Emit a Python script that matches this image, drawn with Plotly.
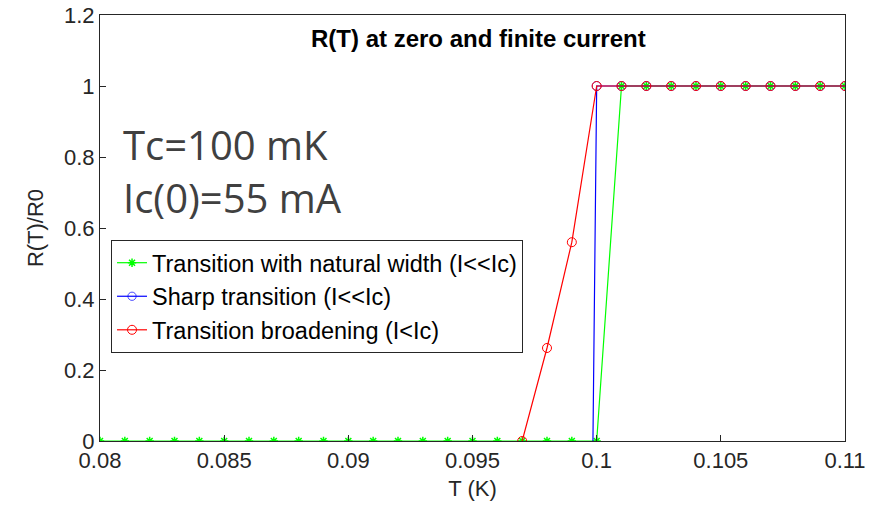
import plotly.graph_objects as go

# Data
T_nat = [round(0.080 + 0.001 * i, 3) for i in range(31)]
R_nat = [0] * 21 + [1] * 10

T_sharp = [0.09985, 0.100] + [round(0.101 + 0.001 * i, 3) for i in range(10)]
R_sharp = [0, 1] + [1] * 10

T_broad = [0.097, 0.098, 0.099, 0.100] + [round(0.101 + 0.001 * i, 3) for i in range(10)]
R_broad = [0, 0.262, 0.56, 1] + [1] * 10

x_ticks = [0.08, 0.085, 0.09, 0.095, 0.1, 0.105, 0.11]
x_ticklabels = ["0.08", "0.085", "0.09", "0.095", "0.1", "0.105", "0.11"]
y_ticks = [0, 0.2, 0.4, 0.6, 0.8, 1, 1.2]
y_ticklabels = ["0", "0.2", "0.4", "0.6", "0.8", "1", "1.2"]

FONT = "Liberation Sans, Arial, sans-serif"

fig = go.Figure()
fig.add_trace(go.Scatter(
    x=T_nat, y=R_nat, mode="lines+markers",
    name="Transition with natural width (I<<Ic)",
    line=dict(color="#00ff00", width=1.2),
    marker=dict(symbol="asterisk", size=7, color="#00ff00",
                line=dict(color="#00ff00", width=1.5)),
))
fig.add_trace(go.Scatter(
    x=T_sharp, y=R_sharp, mode="lines+markers",
    name="Sharp transition (I<<Ic)",
    line=dict(color="#0000ff", width=1.2),
    marker=dict(symbol="circle-open", size=[0] + [9] * (len(T_sharp) - 1),
                color="#0000ff", line=dict(width=1)),
))
fig.add_trace(go.Scatter(
    x=T_broad, y=R_broad, mode="lines+markers",
    name="Transition broadening (I<Ic)",
    line=dict(color="#ff0000", width=1.2),
    marker=dict(symbol="circle-open", size=9, color="#ff0000", line=dict(width=1)),
))

fig.update_layout(
    width=877, height=512,
    margin=dict(l=100, r=32, t=15, b=71, autoexpand=False),
    paper_bgcolor="white", plot_bgcolor="white",
    font=dict(family=FONT, size=22, color="#262626"),
    showlegend=True,
    legend=dict(
        x=0.0148, y=0.472, xanchor="left", yanchor="top",
        bgcolor="white", bordercolor="#262626", borderwidth=1,
        font=dict(family=FONT, size=23.5, color="#000000"),
        tracegroupgap=0, itemwidth=30,
    ),
    annotations=[
        dict(text="<b>R(T) at zero and finite current</b>", x=0.508, y=0.945,
             xref="paper", yref="paper", showarrow=False,
             xanchor="center", yanchor="middle",
             font=dict(family=FONT, size=24, color="#000000")),
        dict(text="Tc=100 mK", x=0.028, y=0.695, xref="paper", yref="paper",
             xanchor="left", yanchor="middle", showarrow=False,
             font=dict(family="Open Sans, sans-serif", size=40, color="#404040")),
        dict(text="Ic(0)=55 mA", x=0.028, y=0.571, xref="paper", yref="paper",
             xanchor="left", yanchor="middle", showarrow=False,
             font=dict(family="Open Sans, sans-serif", size=40, color="#404040")),
    ],
)

fig.update_xaxes(
    range=[0.08, 0.11], tickvals=x_ticks, ticktext=x_ticklabels,
    showgrid=False, zeroline=False, showline=True, linecolor="#262626",
    linewidth=1, mirror=True, ticks="inside", ticklen=6, tickcolor="#262626",
    automargin=False, ticklabeloverflow="allow",
    title=dict(text="T (K)", font=dict(size=22, color="#262626"), standoff=8),
)
fig.update_yaxes(
    range=[0, 1.2], tickvals=y_ticks, ticktext=y_ticklabels,
    showgrid=False, zeroline=False, showline=True, linecolor="#262626",
    linewidth=1, mirror=True, ticks="inside", ticklen=6, tickcolor="#262626",
    automargin=False, ticklabeloverflow="allow",
    title=dict(text="R(T)/R0", font=dict(size=22, color="#262626"), standoff=14),
)

fig.write_html("out.html", config={"displayModeBar": False},
               post_script="document.body.style.margin='0px';")
